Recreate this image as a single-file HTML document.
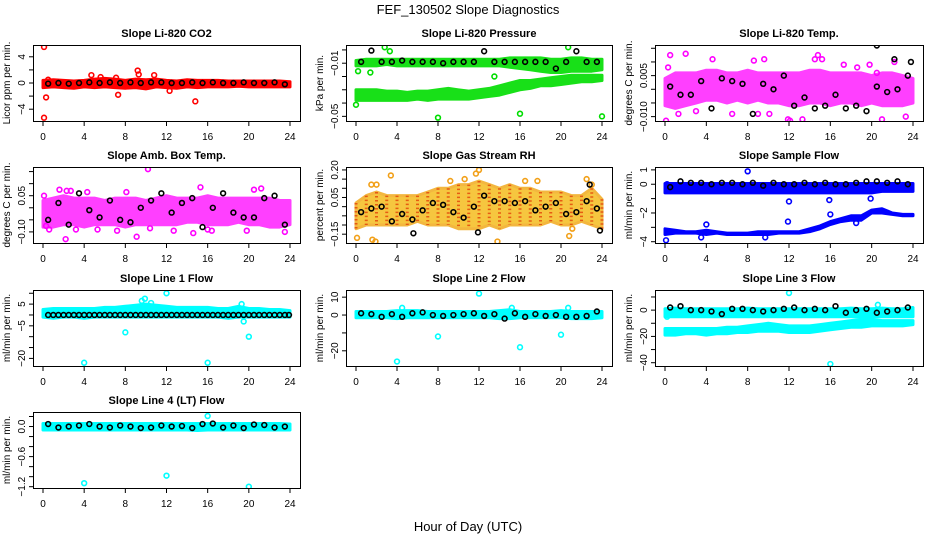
<!DOCTYPE html>
<html><head><meta charset="utf-8">
<style>
html,body{margin:0;padding:0;background:#fff;}
svg{display:block;font-family:"Liberation Sans",sans-serif;}
</style></head>
<body>
<svg id="c" width="936" height="540" viewBox="0 0 936 540">
<text x="468" y="14" text-anchor="middle" font-size="13">FEF_130502  Slope Diagnostics</text>
<text x="468" y="531" text-anchor="middle" font-size="13">Hour of Day (UTC)</text>
</svg>
<script>
// shared hours
const H = [0.5,1.5,2.5,3.5,4.5,5.5,6.5,7.5,8.5,9.5,10.5,11.5,12.5,13.5,14.5,15.5,16.5,17.5,18.5,19.5,20.5,21.5,22.5,23.5];
const H2 = [0.5,1,1.5,2,2.5,3,3.5,4,4.5,5,5.5,6,6.5,7,7.5,8,8.5,9,9.5,10,10.5,11,11.5,12,12.5,13,13.5,14,14.5,15,15.5,16,16.5,17,17.5,18,18.5,19,19.5,20,20.5,21,21.5,22,22.5,23,23.5,23.9];
const BH = [0,1,2,3,4,5,6,7,8,9,10,11,12,13,14,15,16,17,18,19,20,21,22,23,24];
const xTicks = [0,4,8,12,16,20,24];

// CO2
const co2Lo = [-0.7,-0.6,-0.7,-0.8,-0.6,-0.7,-0.6,-0.7,-0.8,-0.7,-0.9,-0.6,-0.7,-0.8,-0.6,-0.7,-0.6,-0.6,-0.6,-0.5,-0.6,-0.6,-0.6,-0.6,-0.6];
const co2Hi = [0.4,0.5,0.4,0.3,0.4,0.6,0.7,0.6,0.4,0.6,0.5,0.6,0.4,0.3,0.5,0.4,0.4,0.4,0.3,0.3,0.3,0.3,0.3,0.3,0.2];
const co2OutX = [0.1,0.3,0.1,4.7,7.3,9.2,9.3,10.8,12.3,14.8,7.1,5.6,0.5];
const co2OutY = [5.5,-2.2,-5.3,1.2,-1.8,1.9,1.3,1.2,-1.2,-2.8,0.8,0.9,0.5];
const co2Blk = [-0.1,0,-0.1,0,0.1,0,0.1,0,0.1,0,0.1,0.1,0,0,0.1,0,0.1,0,0,0.1,0,0,0.1,-0.2];
const co2Ticks = [-4,-2,0,2,4];
const co2Labels = ["−4","","0","","4"];

// Pressure
const prUpLo = [-0.012,-0.012,-0.012,-0.011,-0.012,-0.012,-0.012,-0.012,-0.012,-0.012,-0.012,-0.012,-0.012,-0.012,-0.012,-0.013,-0.014,-0.015,-0.016,-0.017,-0.017,-0.016,-0.016,-0.016,-0.015];
const prUpHi = [-0.008,-0.007,-0.007,-0.007,-0.007,-0.007,-0.007,-0.007,-0.007,-0.007,-0.007,-0.007,-0.007,-0.007,-0.007,-0.006,-0.006,-0.006,-0.006,-0.007,-0.007,-0.006,-0.006,-0.007,-0.007];
const prLoLo = [-0.038,-0.038,-0.038,-0.038,-0.038,-0.038,-0.037,-0.038,-0.037,-0.037,-0.037,-0.037,-0.036,-0.035,-0.034,-0.032,-0.030,-0.029,-0.027,-0.027,-0.026,-0.025,-0.024,-0.024,-0.023];
const prLoHi = [-0.030,-0.030,-0.030,-0.031,-0.031,-0.032,-0.031,-0.031,-0.030,-0.029,-0.030,-0.031,-0.030,-0.029,-0.027,-0.025,-0.023,-0.023,-0.022,-0.021,-0.020,-0.019,-0.019,-0.019,-0.019];
const prOutX = [0,0.2,2.8,3.3,8,16,24,20.7,13.5,1.4];
const prOutY = [-0.0413,-0.016,0.002,-0.001,-0.051,-0.048,-0.05,0.002,-0.02,-0.017];
const prBlk = [-0.009,-0.0005,-0.009,-0.009,-0.008,-0.009,-0.009,-0.009,-0.01,-0.009,-0.009,-0.009,-0.001,-0.009,-0.009,-0.009,-0.009,-0.009,-0.009,-0.014,-0.009,-0.001,-0.009,-0.009];
const prTicks = [0,-0.01,-0.02,-0.03,-0.04,-0.05];
const prLabels = ["","−0.01","","","","−0.05"];

// Li-820 Temp
const tLo = [-0.006,-0.007,-0.006,-0.005,-0.004,-0.004,-0.005,-0.004,-0.005,-0.004,-0.005,-0.005,-0.006,-0.006,-0.005,-0.005,-0.006,-0.005,-0.005,-0.006,-0.005,-0.006,-0.006,-0.006,-0.005];
const tHi = [0.004,0.006,0.006,0.006,0.007,0.007,0.006,0.006,0.007,0.006,0.006,0.006,0.006,0.006,0.007,0.007,0.006,0.006,0.006,0.006,0.005,0.006,0.006,0.005,0.004];
const tOutX = [0.1,0.5,2.0,0.3,4.6,1.3,8.6,9.6,10.1,11.9,12.1,13.3,14.8,14.5,19.8,21.0,20.5,23.3,22.2,6.5,3.0,15.2,17.3,18.6,9.0];
const tOutY = [-0.0115,0.0125,0.013,0.008,0.011,-0.009,0.0105,0.011,-0.009,-0.011,-0.0115,-0.011,0.0125,0.011,0.009,-0.011,0.006,-0.010,0.010,-0.009,-0.008,0.011,0.009,0.008,-0.009];
const tBlk = [0.001,-0.002,-0.002,0.003,-0.007,0.004,0.003,0.002,-0.009,0.002,0.0,0.005,-0.006,-0.003,-0.007,-0.006,-0.002,-0.007,-0.006,-0.008,0.001,-0.001,0.0,0.005];
const tBlkX = [20.5,22.2,23.8];
const tBlkY = [0.016,0.011,0.010];
const tTicks = [0.015,0.01,0.005,0,-0.005,-0.01];
const tLabels = ["","","0.005","","","−0.010"];

// Amb box temp
const abLo = [-0.08,-0.08,-0.07,-0.07,-0.08,-0.07,-0.07,-0.07,-0.08,-0.07,-0.07,-0.07,-0.07,-0.07,-0.06,-0.06,-0.07,-0.07,-0.07,-0.06,-0.07,-0.07,-0.08,-0.08,-0.07];
const abHi = [0.03,0.04,0.05,0.04,0.04,0.04,0.03,0.04,0.04,0.04,0.03,0.04,0.05,0.04,0.04,0.04,0.05,0.04,0.04,0.04,0.04,0.04,0.04,0.03,0.03];
const abOutX = [0.1,0.3,1.6,2.2,2.3,4.3,7.2,8.1,9.1,10.2,10.4,12.7,14.6,15.3,16.0,16.4,19.8,20.5,21.2,23.5,2.7,0.6,5.3,3.2];
const abOutY = [0.05,-0.075,0.075,-0.13,0.07,0.065,-0.095,0.065,-0.12,0.16,-0.085,-0.095,-0.105,0.085,-0.09,-0.095,-0.095,0.075,0.08,-0.1,0.07,-0.09,-0.09,-0.09];
const abBlk = [-0.05,0.02,-0.07,0.06,-0.01,-0.04,0.03,-0.05,-0.06,0.0,0.03,0.06,-0.02,0.02,0.04,-0.08,0.0,0.06,-0.02,-0.04,-0.04,0.04,0.05,-0.07];
const abTicks = [0.15,0.1,0.05,0,-0.05,-0.1];
const abLabels = ["","","0.05","","","−0.10"];

// Gas stream RH
const rhLo = [-0.12,-0.1,-0.1,-0.1,-0.1,-0.1,-0.08,-0.1,-0.1,-0.1,-0.12,-0.12,-0.12,-0.1,-0.12,-0.1,-0.1,-0.1,-0.1,-0.08,-0.1,-0.1,-0.08,-0.1,-0.12];
const rhHi = [0.02,0.06,0.08,0.06,0.06,0.06,0.06,0.08,0.1,0.1,0.12,0.12,0.14,0.12,0.1,0.12,0.1,0.1,0.08,0.08,0.08,0.06,0.06,0.1,0.04];
const rhOutX = [0.1,1.6,1.9,3.4,2.0,9.2,10.6,12.0,11.7,13.8,20.8,21.1,16.5,17.7,23.0,1.5,22.5];
const rhOutY = [-0.17,-0.18,-0.19,0.17,0.12,0.14,0.15,0.2,0.18,-0.19,-0.16,-0.12,0.14,0.14,0.12,0.12,0.15];
const rhBlk = [-0.03,-0.01,0.0,-0.08,-0.04,-0.07,-0.02,0.02,0.01,-0.03,-0.06,0.0,0.06,0.03,0.03,0.02,0.03,-0.02,0.0,0.02,-0.04,-0.03,0.03,-0.01];
const rhBlkX = [5.6,11.9,23.8,22.8];
const rhBlkY = [-0.145,-0.14,-0.13,0.12];
const rhTicks = [0.2,0.15,0.1,0.05,0,-0.05,-0.1,-0.15];
const rhLabels = ["0.20","","","0.05","","","","−0.15"];

// Sample flow
const sfUpLo = [-0.6,-0.6,-0.6,-0.6,-0.6,-0.6,-0.6,-0.6,-0.6,-0.6,-0.6,-0.6,-0.6,-0.6,-0.6,-0.6,-0.6,-0.6,-0.6,-0.6,-0.6,-0.5,-0.5,-0.5,-0.5];
const sfUpHi = [0.05,0.05,0.05,0.05,0.05,0.05,0.05,0.05,0.05,0.05,0.05,0.05,0.05,0.05,0.05,0.05,0.05,0.05,0.05,0.05,0.05,0.05,0.05,0.05,0.05];
const sfLoLo = [-3.5,-3.4,-3.4,-3.4,-3.5,-3.4,-3.5,-3.5,-3.5,-3.5,-3.5,-3.4,-3.4,-3.4,-3.3,-3.1,-2.8,-2.6,-2.5,-2.5,-2.0,-2.0,-2.1,-2.2,-2.2];
const sfLoHi = [-3.1,-3.2,-3.3,-3.3,-3.2,-3.3,-3.4,-3.4,-3.4,-3.3,-3.3,-3.3,-3.3,-3.3,-3.1,-2.9,-2.6,-2.4,-2.2,-2.2,-1.8,-1.7,-2.0,-2.1,-2.1];
const sfOutX = [0.1,8.0,12.0,11.9,15.9,16.0,4.0,3.5,9.7,18.5,19.9,0.2];
const sfOutY = [-3.9,0.9,-1.2,-2.6,-1.1,-2.1,-2.8,-3.7,-3.7,-2.7,-1.0,0.0];
const sfBlk = [-0.2,0.2,0.1,0.1,0.0,0.1,0.1,0.0,0.1,-0.1,0.1,0.0,0.0,0.1,0.0,0.1,0.0,0.0,0.1,0.2,0.2,0.1,0.2,0.0];
const sfTicks = [1,0,-1,-2,-3,-4];
const sfLabels = ["1","0","","−2","","−4"];

// Line 1
const l1Lo = [-1,-1.5,-1,-1,-1.5,-1,-1,-1,-1,-1,-1,-1,-1,-1,-1,-1,-1,-1,-1.5,-1,-1,-1,-1,-1,-1];
const l1Hi = [2.5,3,3,3,3,3,3.5,3.5,4,4.5,5,4.5,4,3.5,3.5,3.5,3.5,3,3,4,3,3,2.5,2.5,2];
const l1OutX = [4,16,8,12,20,9.6,9.9,10.5,19.5,19.3];
const l1OutY = [-22,-22,-8,10,-10,6.5,7.5,5.5,-3,5];
const l1Blk = [0,0,0,0,0,0,0,0,0,0,0,0,0,0,0,0,0,0,0,0,0,0,0,0,0,0,0,0,0,0,0,0,0,0,0,0,0,0,0,0,0,0,0,0,0,0,0,0];
const l1Ticks = [10,5,0,-5,-10,-15,-20];
const l1Labels = ["","5","","−5","","","−20"];

// Line 2
const l2Lo = [-1.5,-1.5,-1.5,-1.5,-2,-1.5,-1.5,-1.5,-1.5,-1.5,-1.5,-1.5,-1.5,-1.5,-2,-2,-1.5,-1.5,-1.5,-1.5,-1.5,-2,-2,-2,-1.5];
const l2Hi = [2,2,2,2,2.5,2.5,2.5,2,2,2,2,2,2,2,2.5,3,2,2,2,2,2.5,2,2,2,2];
const l2OutX = [4,8,12,16,20,4.5,15.2,20.7];
const l2OutY = [-26,-12,12,-18,-11,4,4,4];
const l2Blk = [1,0.5,-1,0.5,-1,1,1.5,0,-0.5,0,0.5,1,-0.5,0.5,-2,1,-1,0.5,-0.5,0,-1,-1,-0.5,2];
const l2Ticks = [10,0,-10,-20];
const l2Labels = ["10","0","","−20"];

// Line 3
const l3UpLo = [-5,-5,-5,-5,-5,-5,-5,-5,-5,-5,-5,-5,-5,-5,-5,-5,-5,-5,-5,-5,-5,-5,-5,-5,-5];
const l3UpHi = [1,1.5,1,1,1,1,1,1,1.5,1,1,1,1,1,1,1,1,1,1.5,1,1,1.5,1,1,2];
const l3LoLo = [-19,-19,-18,-18,-19,-18,-18,-17,-17,-16,-16,-16,-17,-17,-17,-16,-15,-14,-13,-13,-12,-12,-12,-12,-11];
const l3LoHi = [-14,-14,-14,-14,-14,-14,-13,-13,-12,-11,-10,-11,-12,-12,-12,-11,-10,-9,-8,-7,-7,-8,-8,-8,-8];
const l3OutX = [12,16,20.6,0.2];
const l3OutY = [13,-41,4,-5];
const l3Blk = [2,3,0,0,-1,-3,1,1,0,-1,0,1,2,0,1,0,3,-2,0,1,-2,-1,0,2];
const l3Ticks = [10,0,-10,-20,-30,-40];
const l3Labels = ["","0","","−20","","−40"];

// Line 4
const l4Lo = [-0.07,-0.07,-0.07,-0.07,-0.07,-0.07,-0.07,-0.07,-0.07,-0.07,-0.07,-0.07,-0.07,-0.07,-0.07,-0.08,-0.07,-0.07,-0.07,-0.07,-0.07,-0.07,-0.07,-0.07,-0.07];
const l4Hi = [0.06,0.06,0.06,0.06,0.06,0.06,0.06,0.06,0.06,0.06,0.06,0.06,0.06,0.06,0.06,0.06,0.06,0.06,0.06,0.06,0.06,0.06,0.06,0.06,0.05];
const l4OutX = [4,12,20,16];
const l4OutY = [-1.13,-0.98,-1.2,0.21];
const l4Blk = [0.05,-0.02,0.0,0.02,0.05,0.0,-0.02,0.02,0.0,-0.03,-0.02,0.02,0.0,0.01,-0.03,0.05,0.06,-0.02,0.02,-0.03,0.04,0.03,-0.02,0.0];
const l4Ticks = [0.2,0,-0.2,-0.4,-0.6,-0.8,-1.0,-1.2];
const l4Labels = ["","0.0","","","−0.6","","","−1.2"];

const NS = "http://www.w3.org/2000/svg";
const svg = document.getElementById('c');
function mk(tag, attrs, parent){ const e=document.createElementNS(NS,tag); for(const k in attrs) e.setAttribute(k,attrs[k]); (parent||svg).appendChild(e); return e; }

const colX = [33,346,655], colW = [267,266,268], rowY = [45,167,290,412], BOXH = 76;

const panels = [
 {name:'co2',title:'Slope Li-820 CO2',ylab:'Licor ppm per min.',c:0,r:0,ymin:-5.8,ymax:5.8,col:'#ff0000',op:1,bands:[[co2Lo,co2Hi]],ox:co2OutX,oy:co2OutY,bx:H,by:co2Blk,ticks:co2Ticks,labels:co2Labels},
 {name:'pressure',title:'Slope Li-820 Pressure',ylab:'kPa per min.',c:1,r:0,ymin:-0.0535,ymax:0.0037,col:'#00dd00',op:0.9,bands:[[prUpLo,prUpHi],[prLoLo,prLoHi]],ox:prOutX,oy:prOutY,bx:H,by:prBlk,ticks:prTicks,labels:prLabels},
 {name:'li820-temp',title:'Slope Li-820 Temp.',ylab:'degrees C per min.',c:2,r:0,ymin:-0.0116,ymax:0.0162,col:'#ff00ff',op:0.75,bands:[[tLo,tHi]],ox:tOutX,oy:tOutY,bx:H,by:tBlk,ex:tBlkX,ey:tBlkY,ticks:tTicks,labels:tLabels},
 {name:'amb-box-temp',title:'Slope Amb. Box Temp.',ylab:'degrees C per min.',c:0,r:1,ymin:-0.146,ymax:0.169,col:'#ff00ff',op:0.75,bands:[[abLo,abHi]],ox:abOutX,oy:abOutY,bx:H,by:abBlk,ticks:abTicks,labels:abLabels},
 {name:'gas-stream-rh',title:'Slope Gas Stream RH',ylab:'percent per min.',c:1,r:1,ymin:-0.198,ymax:0.216,col:'#f2a018',op:0.75,bands:[[rhLo,rhHi]],ox:rhOutX,oy:rhOutY,bx:H,by:rhBlk,ex:rhBlkX,ey:rhBlkY,ticks:rhTicks,labels:rhLabels},
 {name:'sample-flow',title:'Slope Sample Flow',ylab:'ml/min per min.',c:2,r:1,ymin:-4.09,ymax:1.2,col:'#0000ff',op:1,bands:[[sfUpLo,sfUpHi],[sfLoLo,sfLoHi]],ox:sfOutX,oy:sfOutY,bx:H,by:sfBlk,ticks:sfTicks,labels:sfLabels},
 {name:'line1-flow',title:'Slope Line 1 Flow',ylab:'ml/min per min.',c:0,r:2,ymin:-23.5,ymax:11.5,col:'#00ffff',op:1,bands:[[l1Lo,l1Hi]],ox:l1OutX,oy:l1OutY,bx:H2,by:l1Blk,ticks:l1Ticks,labels:l1Labels},
 {name:'line2-flow',title:'Slope Line 2 Flow',ylab:'ml/min per min.',c:1,r:2,ymin:-28.5,ymax:14,col:'#00ffff',op:1,bands:[[l2Lo,l2Hi]],ox:l2OutX,oy:l2OutY,bx:H,by:l2Blk,ticks:l2Ticks,labels:l2Labels},
 {name:'line3-flow',title:'Slope Line 3 Flow',ylab:'ml/min per min.',c:2,r:2,ymin:-42.5,ymax:15.3,col:'#00ffff',op:1,bands:[[l3UpLo,l3UpHi],[l3LoLo,l3LoHi]],ox:l3OutX,oy:l3OutY,bx:H,by:l3Blk,ticks:l3Ticks,labels:l3Labels},
 {name:'line4-flow',title:'Slope Line 4 (LT) Flow',ylab:'ml/min per min.',c:0,r:3,ymin:-1.226,ymax:0.29,col:'#00ffff',op:1,bands:[[l4Lo,l4Hi]],ox:l4OutX,oy:l4OutY,bx:H,by:l4Blk,ticks:l4Ticks,labels:l4Labels}
];

panels.forEach(p=>{
  const bx0=colX[p.c], bw=colW[p.c], by0=rowY[p.r], bh=BOXH;
  const g = mk('g',{});
  
  
  const xs = v => bx0+10+(v/24)*(bw-20);
  const ys = v => by0+bh-(v-p.ymin)/(p.ymax-p.ymin)*bh;
  const clipId='clip-'+p.name;
  const cp = mk('clipPath',{id:clipId},g);
  mk('rect',{x:bx0,y:by0,width:bw,height:bh},cp);
  const data = mk('g',{'clip-path':'url(#'+clipId+')'},g);
  p.bands.forEach((b,i)=>{
    let pts=[];
    BH.forEach((h,j)=>pts.push(xs(h).toFixed(1)+','+ys(b[1][j]).toFixed(1)));
    for(let j=BH.length-1;j>=0;j--) pts.push(xs(BH[j]).toFixed(1)+','+ys(b[0][j]).toFixed(1));
    const poly = mk('polygon',{points:pts.join(' '),fill:p.col,stroke:p.col,'stroke-width':3,'stroke-linejoin':'round',opacity:p.op},data);
    
    
    if(p.name==='gas-stream-rh'){ poly.setAttribute('fill','#f4b400'); poly.setAttribute('stroke','#f0a000'); }
  });
  if(p.name==='gas-stream-rh'){
    p.bands.forEach(b=>{
      BH.forEach((h,j)=>{
        const c=mk('line',{x1:xs(h),x2:xs(h),y1:ys(b[1][j]),y2:ys(b[0][j]),stroke:'#e03000','stroke-width':3,'stroke-dasharray':'1.5 2.5',opacity:0.7},data);
        
        
      });
    });
  }
  p.ox.forEach((x,i)=>{
    const c=mk('circle',{cx:xs(x),cy:ys(p.oy[i]),r:2.4,fill:'none',stroke:p.col,'stroke-width':1.6},data);
    
    
  });
  p.bx.forEach((x,i)=>{
    const c=mk('circle',{cx:xs(x),cy:ys(p.by[i]),r:2.4,fill:'none',stroke:'#000','stroke-width':1.6},data);
    
    
  });
  if(p.ex) p.ex.forEach((x,i)=>{
    const c=mk('circle',{cx:xs(x),cy:ys(p.ey[i]),r:2.4,fill:'none',stroke:'#000','stroke-width':1.6},data);
    
    
  });
  const box=mk('rect',{x:bx0+0.5,y:by0+0.5,width:bw,height:bh,fill:'none',stroke:'#000','stroke-width':1},g);
  
  
  xTicks.forEach(t=>{
    const x=xs(t);
    const l=mk('line',{x1:x,x2:x,y1:by0+bh+1,y2:by0+bh+5,stroke:'#000'},g);
    
    
    const tx=mk('text',{x:x,y:by0+bh+19,'text-anchor':'middle','font-size':10},g);
    tx.textContent=String(t);
    
    
  });
  p.ticks.forEach((t,i)=>{
    const y=ys(t);
    const l=mk('line',{x1:bx0-4,x2:bx0,y1:y,y2:y,stroke:'#000'},g);
    
    
    if(p.labels[i]){
      const tx=mk('text',{x:bx0-8,y:y,'text-anchor':'middle','font-size':10,transform:'rotate(-90 '+(bx0-8)+' '+y+')'},g);
      tx.textContent=p.labels[i];
      
      
    }
  });
  const tt=mk('text',{x:bx0+bw/2,y:by0-8,'text-anchor':'middle','font-size':11,'font-weight':'bold'},g);
  tt.textContent=p.title;
  
  
  const yl=mk('text',{x:bx0-23,y:by0+bh/2,'text-anchor':'middle','font-size':10,transform:'rotate(-90 '+(bx0-23)+' '+(by0+bh/2)+')'},g);
  yl.textContent=p.ylab;
  
  
});
</script>
</body></html>
